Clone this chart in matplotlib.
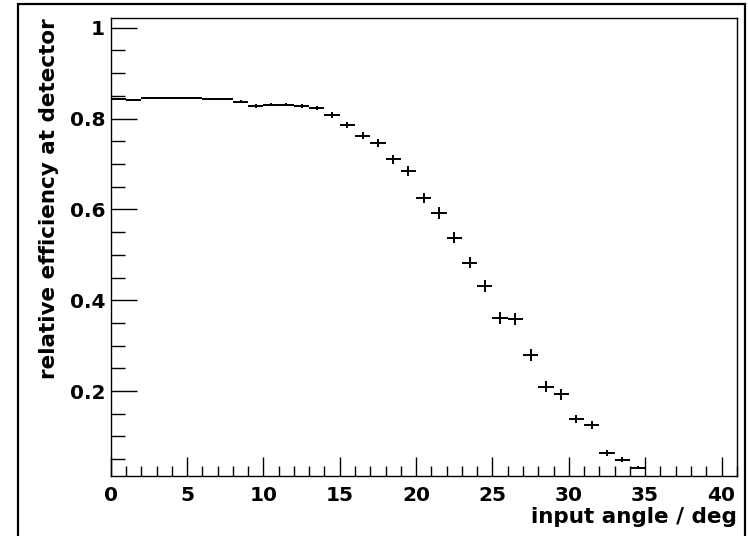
import matplotlib
matplotlib.use('Agg')
import matplotlib.pyplot as plt
from matplotlib.patches import Rectangle
from matplotlib.ticker import MultipleLocator
import numpy as np

# bin edges 0..41, one degree per bin
bin_low = list(range(0, 35))
efficiency = [0.843, 0.842, 0.845, 0.845, 0.845, 0.845, 0.843, 0.843, 0.837, 0.828,
              0.831, 0.831, 0.828, 0.823, 0.808, 0.786, 0.762, 0.746, 0.710, 0.685,
              0.625, 0.592, 0.538, 0.483, 0.432, 0.361, 0.358, 0.280, 0.210, 0.193,
              0.138, 0.126, 0.064, 0.049, 0.031]
eff_err = [0.002, 0.002, 0.002, 0.002, 0.002, 0.002, 0.002, 0.002, 0.003, 0.004,
           0.004, 0.004, 0.004, 0.004, 0.006, 0.007, 0.008, 0.008, 0.009, 0.011,
           0.011, 0.013, 0.013, 0.013, 0.013, 0.013, 0.013, 0.013, 0.013, 0.012,
           0.009, 0.009, 0.007, 0.005, 0.003]

plt.rcParams['font.family'] = ['DejaVu Sans']
plt.rcParams['font.weight'] = 'bold'

fig = plt.figure(figsize=(7.48, 5.36), dpi=100)
ax = fig.add_axes([0.148, 0.112, 0.837, 0.854])

x = np.array(bin_low) + 0.5
ax.errorbar(x, efficiency, xerr=0.5, yerr=eff_err, fmt='none',
            ecolor='black', elinewidth=1.4, capsize=0)

ax.set_xlim(0, 41)
ax.set_ylim(0.013, 1.021)
ax.xaxis.set_major_locator(MultipleLocator(5))
ax.xaxis.set_minor_locator(MultipleLocator(1))
ax.yaxis.set_major_locator(MultipleLocator(0.2))
ax.yaxis.set_minor_locator(MultipleLocator(0.05))
ax.set_yticks([0.2, 0.4, 0.6, 0.8, 1.0])
ax.set_yticklabels(['0.2', '0.4', '0.6', '0.8', '1'])

ax.tick_params(axis='both', which='both', direction='in', labelsize=14.5, width=1)
ax.tick_params(axis='y', which='major', length=19, pad=4)
ax.tick_params(axis='y', which='minor', length=10)
ax.tick_params(axis='x', which='major', length=14, pad=7)
ax.tick_params(axis='x', which='minor', length=7)
for lab in ax.get_xticklabels() + ax.get_yticklabels():
    lab.set_fontweight('bold')
for s in ax.spines.values():
    s.set_linewidth(1)

ax.set_xlabel('input angle / deg', fontsize=15.5, fontweight='bold', loc='right', labelpad=2)
ax.set_ylabel('relative efficiency at detector', fontsize=15.5, fontweight='bold', loc='top', labelpad=8)

# outer canvas border
fig.patches.append(Rectangle((18 / 748, -0.05), 727 / 748, 1.05 - 4 / 536,
                             transform=fig.transFigure, fill=False,
                             edgecolor='black', linewidth=1.6))

fig.savefig('out.png', dpi=100)
